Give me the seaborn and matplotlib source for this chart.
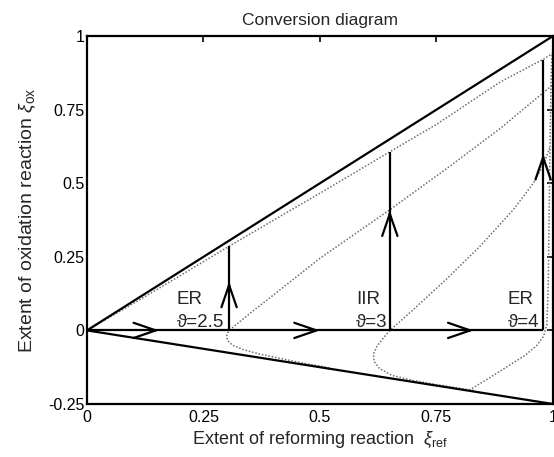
import matplotlib
matplotlib.use("Agg")
import matplotlib.pyplot as plt
import seaborn as sns

sns.set_theme(style="white")
plt.rcParams['font.family'] = ['Liberation Sans', 'DejaVu Sans']
plt.rcParams['mathtext.fontset'] = 'custom'
plt.rcParams['mathtext.rm'] = 'Liberation Sans'
plt.rcParams['mathtext.it'] = 'Liberation Sans:italic'

# ---- data ----
x_ticks = [0, 0.25, 0.5, 0.75, 1]
x_tick_labels = ["0", "0.25", "0.5", "0.75", "1"]
y_ticks = [-0.25, 0, 0.25, 0.5, 0.75, 1]
y_tick_labels = ["-0.25", "0", "0.25", "0.5", "0.75", "1"]

upper_bound_x = [0, 1]
upper_bound_y = [0, 1]
lower_bound_x = [0, 1]
lower_bound_y = [0, -0.25]

near_diag_x = [0, 0.1, 0.2, 0.305, 0.4, 0.515, 0.65, 0.75, 0.886, 0.98, 1.0]
near_diag_y = [0, 0.092, 0.186, 0.286, 0.374, 0.48, 0.607, 0.70, 0.843, 0.922, 0.942]

theta25_x = [0.52, 0.46, 0.414, 0.37, 0.335, 0.312, 0.301, 0.300, 0.305,
             0.35, 0.4, 0.5, 0.65, 0.772, 0.886, 1.0]
theta25_y = [-0.127, -0.11, -0.095, -0.08, -0.065, -0.05, -0.033, -0.015, 0.0,
             0.058, 0.12, 0.245, 0.41, 0.55, 0.685, 0.835]

theta3_x = [0.83, 0.75, 0.70, 0.655, 0.628, 0.616, 0.615, 0.622, 0.634, 0.65,
            0.70, 0.772, 0.843, 0.915, 0.958, 0.979, 0.993]
theta3_y = [-0.204, -0.184, -0.170, -0.153, -0.130, -0.105, -0.08, -0.055, -0.03, 0.0,
            0.07, 0.175, 0.285, 0.41, 0.50, 0.56, 0.62]

theta4_x = [0.82, 0.86, 0.9, 0.94, 0.965, 0.98, 0.987, 0.99, 0.992, 0.994, 0.996, 0.998]
theta4_y = [-0.203, -0.165, -0.125, -0.085, -0.052, -0.02, 0.02, 0.15, 0.4, 0.65, 0.85, 0.94]

path_x_end = 0.979                  # horizontal adiabatic path end
jump_x = [0.305, 0.65, 0.979]       # vertical jump positions
jump_top = [0.287, 0.607, 0.92]
h_arrow_tips = [0.155, 0.50, 0.83]
v_arrow_tips = [0.166, 0.408, 0.60]

labels_regime = ["ER", "IIR", "ER"]
labels_theta = ["ϑ=2.5", "ϑ=3", "ϑ=4"]
label_x = [0.193, 0.578, 0.903]

# ---- figure ----
fig = plt.figure(figsize=(5.54, 4.57), dpi=100)
ax = fig.add_axes([0.157, 0.116, 0.841, 0.805])

dot = dict(color="#6e6e6e", linewidth=1.1, linestyle=(0, (1, 1.2)))
for xs, ys in [(near_diag_x, near_diag_y), (theta25_x, theta25_y),
               (theta3_x, theta3_y), (theta4_x, theta4_y)]:
    sns.lineplot(x=xs, y=ys, sort=False, estimator=None, ax=ax, **dot)

solid = dict(color="black", linewidth=1.6)
sns.lineplot(x=upper_bound_x, y=upper_bound_y, sort=False, ax=ax, **solid)
sns.lineplot(x=lower_bound_x, y=lower_bound_y, sort=False, ax=ax, **solid)
ax.hlines(0, 0, path_x_end, colors="black", linewidth=1.6)
ax.vlines(jump_x, 0, jump_top, colors="black", linewidth=1.6)

arrow_kw = dict(arrowstyle="->,head_length=1.6,head_width=0.55", color="black",
                lw=1.6, shrinkA=0, shrinkB=0, mutation_scale=10)
for t in h_arrow_tips:
    ax.annotate("", xy=(t, 0), xytext=(t - 0.02, 0), arrowprops=arrow_kw)
for xj, t in zip(jump_x, v_arrow_tips):
    ax.annotate("", xy=(xj, t), xytext=(xj, t - 0.02), arrowprops=arrow_kw)

for lx, r, th in zip(label_x, labels_regime, labels_theta):
    ax.text(lx, 0.09, r, fontsize=13.5, ha="left", va="baseline")
    ax.text(lx, 0.012, th, fontsize=13.5, ha="left", va="baseline",
            family=['Liberation Sans', 'DejaVu Sans'])

ax.set_xlim(0, 1)
ax.set_ylim(-0.25, 1)
ax.set_xticks(x_ticks)
ax.set_xticklabels(x_tick_labels)
ax.set_yticks(y_ticks)
ax.set_yticklabels(y_tick_labels)
ax.tick_params(direction="in", length=4, width=1.2, top=True, right=True,
               labelsize=11.5, colors="black")
ax.tick_params(axis="x", pad=4)
ax.tick_params(axis="y", pad=2)
for s in ax.spines.values():
    s.set_color("black")
    s.set_linewidth(1.6)

ax.set_title("Conversion diagram", fontsize=12.5, pad=8)
ax.set_xlabel(r"Extent of reforming reaction  $\xi_{\rm ref}$", fontsize=13, labelpad=3)
ax.set_ylabel(r"Extent of oxidation reaction $\xi_{\rm ox}$", fontsize=14, labelpad=7)

fig.savefig("out.png", dpi=100)
